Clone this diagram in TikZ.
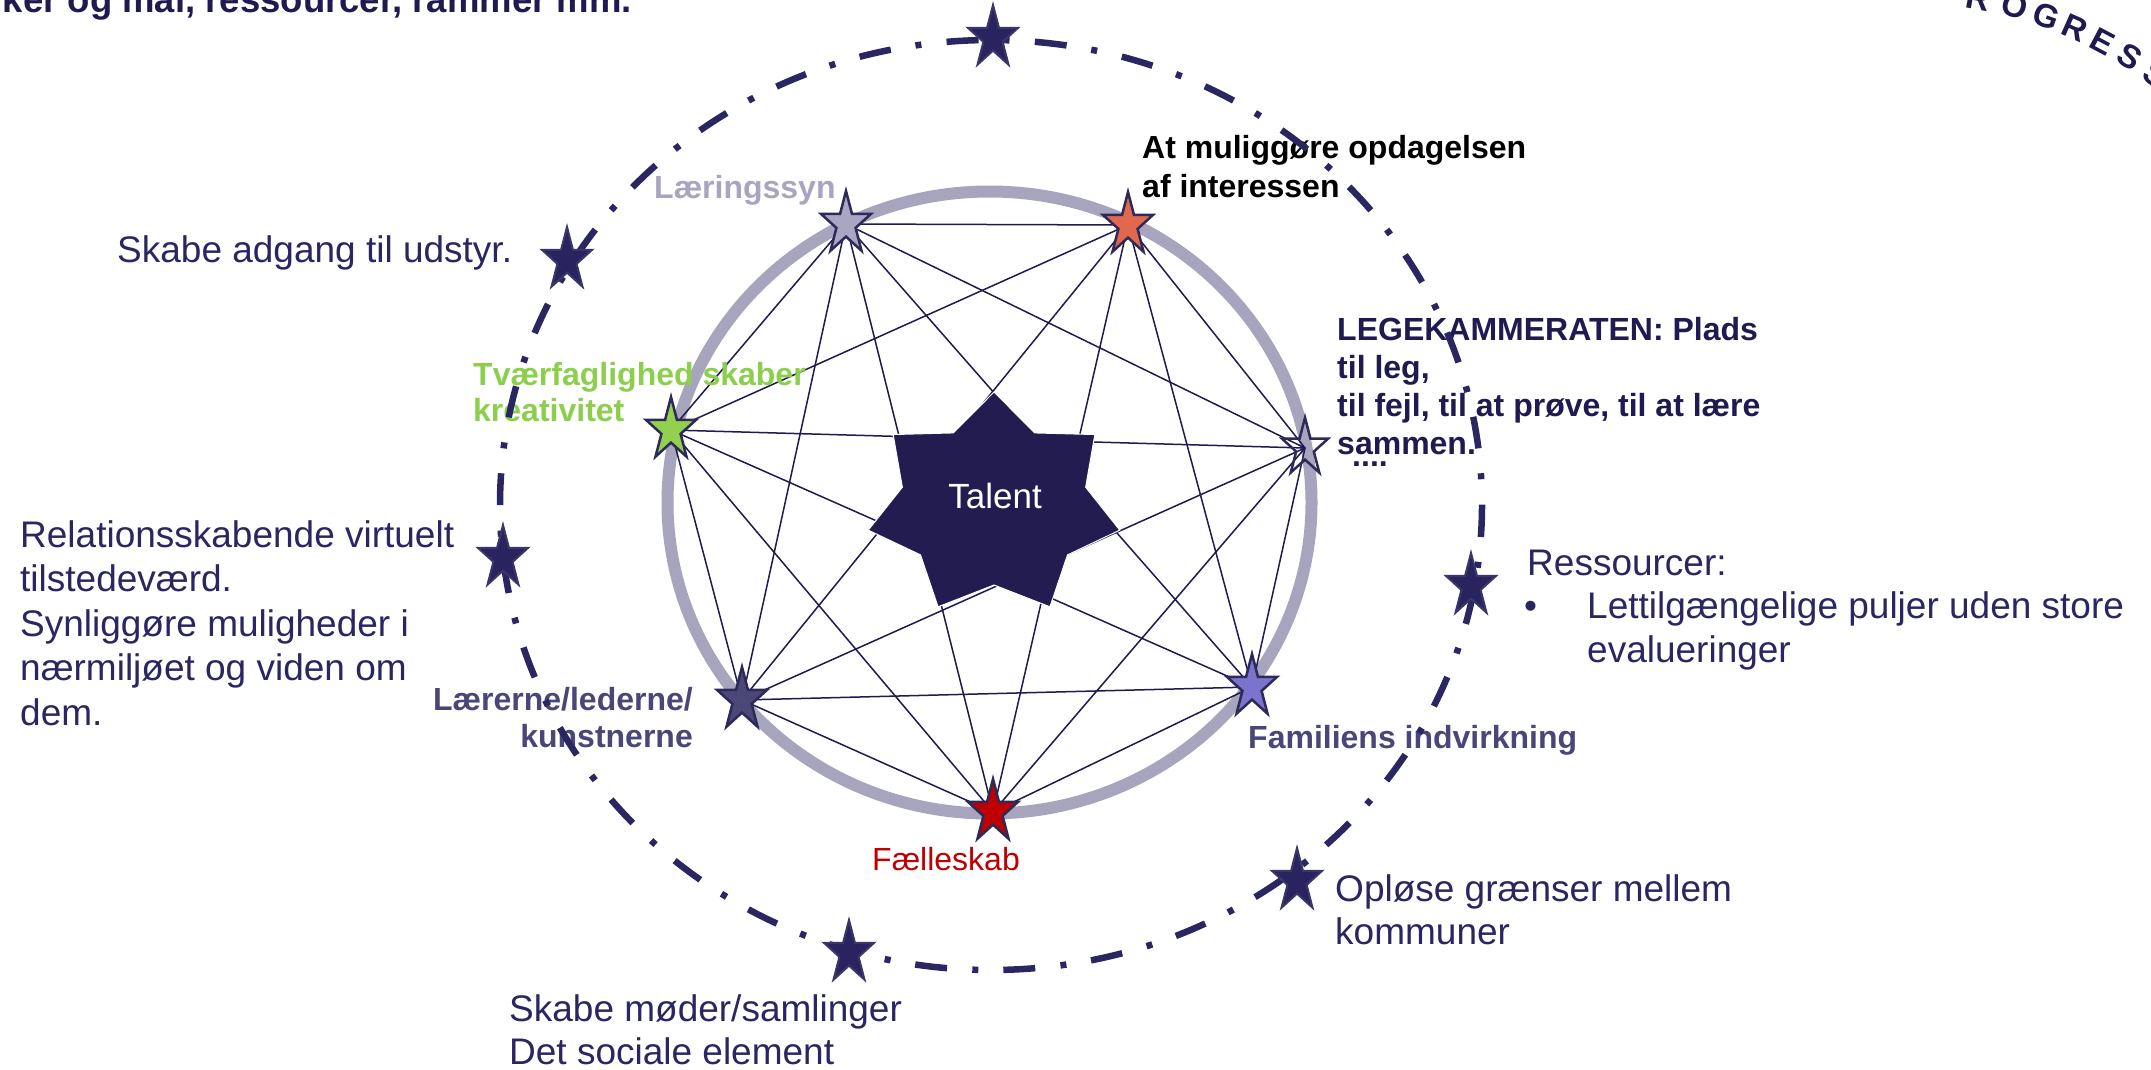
\documentclass[tikz,border=0pt]{standalone}
\usepackage{fontspec}
\setmainfont{Liberation Sans}
\usetikzlibrary{calc}
\newcommand\lnsL[1]{\vtop{\halign{##\hfil\cr #1\crcr}}}
\newcommand\lnsR[1]{\vtop{\halign{\hfil##\cr #1\crcr}}}
\definecolor{navyt}{HTML}{2A2662}
\definecolor{navyb}{HTML}{1F1A4F}
\definecolor{ringc}{HTML}{A7A4BE}
\definecolor{lavs}{HTML}{A9A6C4}
\definecolor{oranges}{HTML}{E2674F}
\definecolor{greens}{HTML}{92D050}
\definecolor{slates}{HTML}{4B4878}
\definecolor{purples}{HTML}{7B74CF}
\definecolor{reds}{HTML}{C00000}
\definecolor{starline}{HTML}{2E2A58}
\definecolor{darkstar}{HTML}{29245F}
\definecolor{darkline}{HTML}{3A3768}
\definecolor{centerc}{HTML}{221C50}
\definecolor{greent}{HTML}{8CCF4D}
\definecolor{lavt}{HTML}{A8A5C0}
\definecolor{slatet}{HTML}{4A4778}
\tikzset{
  pics/fstar/.style 2 args={code={
    \filldraw[fill=#1, draw=#2, miter limit=10]
      plot[samples=11, domain=0:10, variable=\k]
      ({26.4*cos(-90+36*\k)*(1-0.618*mod(\k,2))}, {33*sin(-90+36*\k)*(1-0.618*mod(\k,2))}) -- cycle;
  }},
  lbl/.style={inner sep=0pt, anchor=base west},
  reg/.style={font=\fontsize{37}{44.5}\selectfont, text=navyt},
  bld/.style={font=\bfseries\fontsize{32}{38}\selectfont},
  net/.style={draw=navyb, line width=1.5pt},
  arcl/.style={inner sep=0pt, font=\bfseries\fontsize{33}{36}\selectfont, text=navyb},
}
\begin{document}
\begin{tikzpicture}[x=1pt,y=-1pt]
\useasboundingbox (0,0) rectangle (2151,1070);
\fill[white] (0,0) rectangle (2151,1070);

% inner ring
\draw[ringc, line width=12pt] (989.5,502.5) ellipse (322 and 311);

% ring star positions
\coordinate (learn) at (846,224);
\coordinate (interest) at (1128,225);
\coordinate (play) at (1305,448);
\coordinate (family) at (1252,687);
\coordinate (comm) at (993,812);
\coordinate (teach) at (742,700);
\coordinate (cross) at (671,430);

% complete graph
\foreach \a/\b in {learn/interest, learn/play, learn/family, learn/comm, learn/teach, learn/cross,
  interest/play, interest/family, interest/comm, interest/teach, interest/cross,
  play/family, play/comm, play/teach, play/cross,
  family/comm, family/teach, family/cross,
  comm/teach, comm/cross, teach/cross}
  \draw[net] (\a) -- (\b);

% ring stars
\pic[line width=2.5pt] at (learn) {fstar={lavs}{starline}};
\pic[line width=2.5pt] at (interest) {fstar={oranges}{starline}};
\pic[line width=2.5pt, scale=0.92] at (play) {fstar={none}{starline}};
\pic[line width=2.5pt] at (family) {fstar={purples}{starline}};
\pic[line width=2.5pt] at (comm) {fstar={reds}{starline}};
\pic[line width=2.5pt] at (teach) {fstar={slates}{starline}};
\pic[line width=2.5pt] at (cross) {fstar={greens}{starline}};

% central star
\coordinate (talentc) at (994,505);
\filldraw[fill=centerc, draw=white, line width=1pt]
  plot[samples=15, domain=0:14, variable=\k]
  ({994+cos(-90+\k*180/7)*(129-35*mod(\k,2))}, {505+sin(-90+\k*180/7)*(113-33*mod(\k,2))}) -- cycle;
\node[inner sep=0pt, anchor=base, font=\fontsize{35}{40}\selectfont, text=white] (talent) at (995,508) {Talent};

% labels
\node[lbl, anchor=base east, font=\bfseries\fontsize{36.5}{40}\selectfont, text=navyb] (toptext) at (632,13) {ker og mål, ressourcer, rammer mm.};
\node[lbl, reg] (udstyr) at (117,262) {Skabe adgang til udstyr.};
\node[lbl, reg] (relations) at (20,547) {\lnsL{Relationsskabende virtuelt\cr tilstedeværd.\cr Synliggøre muligheder i\cr nærmiljøet og viden om\cr dem.}};
\node[lbl, bld, font=\bfseries\fontsize{32}{36}\selectfont, text=greent] (crosslbl) at (473,385) {\lnsL{Tværfaglighed skaber\cr kreativitet}};
\node[lbl, bld, text=lavt] (learnlbl) at (654,198) {Læringssyn};
\node[lbl, bld, font=\bfseries\fontsize{32}{39}\selectfont, text=black] (interestlbl) at (1142,158) {\lnsL{At muliggøre opdagelsen\cr af interessen}};
\node[lbl, bld, text=navyb] (playlbl) at (1337,340) {\lnsL{LEGEKAMMERATEN: Plads\cr til leg,\cr til fejl, til at prøve, til at lære\cr sammen.}};
\node[lbl, bld, text=navyb] (playdots) at (1352,466) {....};
\node[lbl, reg] (ressourcer) at (1527,575) {Ressourcer:};
\node[lbl, reg] (bullet) at (1524,618) {•};
\node[lbl, reg, font=\fontsize{37}{44}\selectfont] (puljer) at (1587,618) {\lnsL{Lettilgængelige puljer uden store\cr evalueringer}};
\node[lbl, bld, text=slatet] (familylbl) at (1248,748) {Familiens indvirkning};
\node[lbl, bld, anchor=base east, font=\bfseries\fontsize{32}{37}\selectfont, text=slatet] (teachlbl) at (693,710) {\lnsR{Lærerne/lederne/\cr kunstnerne}};
\node[lbl, font=\fontsize{32}{38}\selectfont, text=reds] (commlbl) at (872,870) {Fælleskab};
\node[lbl, reg, font=\fontsize{37}{43}\selectfont] (oplose) at (1335,901) {\lnsL{Opløse grænser mellem\cr kommuner}};
\node[lbl, reg, font=\fontsize{37}{43}\selectfont] (moder) at (509,1021) {\lnsL{Skabe møder/samlinger\cr Det sociale element}};

% outer dashed ellipse
\draw[navyt, line width=6.5pt, dash pattern=on 32pt off 25pt on 6pt off 25.35pt] (991,505) ellipse (491 and 465);

% outer stars
\coordinate (o1) at (993,38);
\coordinate (o2) at (567,260);
\coordinate (o3) at (503,558);
\coordinate (o4) at (849,953);
\coordinate (o5) at (1297,881);
\coordinate (o6) at (1471,586);
\foreach \p in {o1,o2,o3,o4,o5,o6}
  \pic[line width=2pt] at (\p) {fstar={darkstar}{darkline}};

% curved text
\coordinate (arcc) at (1901,421);
\foreach \ch/\ang [count=\i] in {R/-79.6,O/-74.7,G/-70.2,R/-66.1,E/-62,S/-57.9,S/-53.6}
  \node[arcl, rotate={-(90+\ang)}] (arc\i) at ($(arcc)+(\ang:430)$) {\ch};
\end{tikzpicture}
\end{document}
